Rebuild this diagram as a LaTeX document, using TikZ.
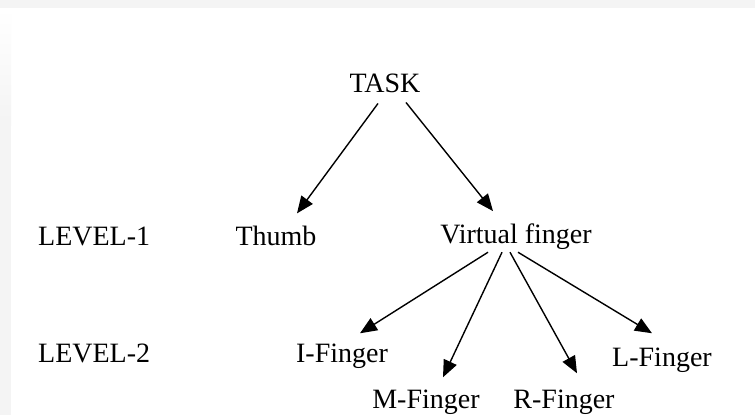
\documentclass[tikz,border=0pt]{standalone}
\usepackage{fontspec}
\setmainfont{Liberation Serif}
\usetikzlibrary{arrows.meta}
\tikzset{
    tree-label/.style = {inner sep=0pt, anchor=base, font=\fontsize{28}{34}\selectfont},
    level-label/.style = {tree-label, anchor=base west},
    tree-arrow/.style = {line width=1.4pt, -{Triangle[length=17pt, width=14pt]}},
}

\begin{document}
\begin{tikzpicture}[x=1pt, y=-1pt]
% page with the grey edge along the top and left
\fill[gray!9] (0,0) rectangle (755,415);
\fill[white] (11,8) rectangle (755,415);
\shade[top color=white, bottom color=gray!9] (0,8) rectangle (11,125);
\useasboundingbox (0,0) rectangle (755,415);

% tree
\node[tree-label] (task) at (385,92) {TASK};
\node[tree-label] (thumb) at (276,245) {Thumb};
\node[tree-label] (virtual) at (516,243) {Virtual finger};
\node[tree-label] (i-finger) at (342,362) {I-Finger};
\node[tree-label] (m-finger) at (426,408) {M-Finger};
\node[tree-label] (r-finger) at (564,408) {R-Finger};
\node[tree-label] (l-finger) at (662,366) {L-Finger};

\node[level-label] (level-1) at (38,245) {LEVEL-1};
\node[level-label] (level-2) at (38,362) {LEVEL-2};

\draw[tree-arrow] ([shift={(-7,11)}]task.south) -- ([shift={(21,-12)}]thumb.north);
\draw[tree-arrow] ([shift={(21,10)}]task.south) -- ([shift={(-23,-12)}]virtual.north);

\draw[tree-arrow] ([shift={(-28,3)}]virtual.south) -- ([shift={(18,-10)}]i-finger.north);
\draw[tree-arrow] ([shift={(-14,3)}]virtual.south) -- ([shift={(17,-12)}]m-finger.north);
\draw[tree-arrow] ([shift={(-6,3)}]virtual.south) -- ([shift={(13,-16)}]r-finger.north);
\draw[tree-arrow] ([shift={(2,3)}]virtual.south) -- ([shift={(-10,-14)}]l-finger.north);
\end{tikzpicture}
\end{document}
